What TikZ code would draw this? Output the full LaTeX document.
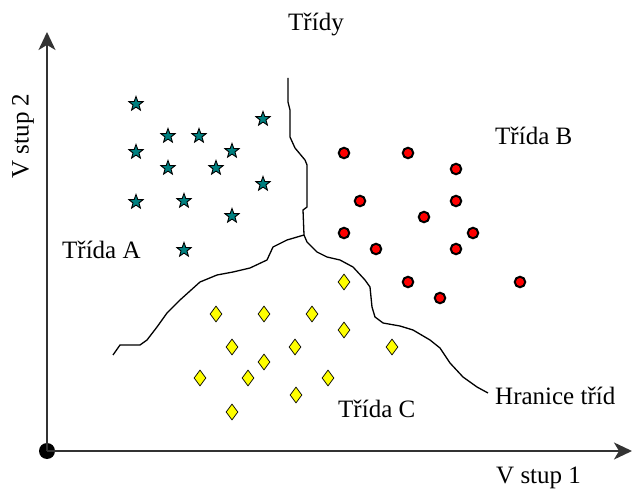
\documentclass[tikz,border=0pt]{standalone}
\usepackage{fontspec}
\setmainfont{Liberation Serif}
\usetikzlibrary{shapes.geometric,arrows.meta}
\definecolor{clsA}{HTML}{008080}
\definecolor{clsB}{HTML}{FF0000}
\definecolor{clsC}{HTML}{FFFF00}
\definecolor{axisgray}{HTML}{333333}
\tikzset{
  starmark/.style={star, star points=5, star point ratio=2.4, minimum size=15pt,
    inner sep=0pt, fill=clsA, draw=black, line width=0.9pt},
  dotmark/.style={circle, minimum size=10.5pt, inner sep=0pt, fill=clsB,
    draw=black, line width=2pt},
  diamark/.style={diamond, minimum width=12pt, minimum height=16pt, inner sep=0pt,
    fill=clsC, draw=black, line width=0.7pt},
  lbl/.style={inner sep=0pt, font=\fontsize{25}{28}\selectfont},
  axisline/.style={draw=axisgray, line width=1.8pt,
    -{Stealth[length=18pt, width=17pt, inset=5pt]}},
  border/.style={draw=black, line width=1.3pt, line join=round},
}
\begin{document}
\begin{tikzpicture}[x=1pt,y=-1pt]
\useasboundingbox[fill=white] (0,0) rectangle (633,492);

% axes
\node[circle, fill=black, minimum size=16pt, inner sep=0pt] (o) at (47,451) {};
\coordinate (xt) at (632,451);
\coordinate (yt) at (47,32);
\draw[axisline] (o.center) -- (xt);
\draw[axisline] (o.center) -- (yt);

% class A
\foreach \n/\p in {1/{136,104},2/{168,136},3/{199,136},4/{263,119},5/{136,152},
  6/{168,168},7/{232,151},8/{216,168},9/{263,184},10/{136,202},11/{184,201},
  12/{232,216},13/{184,250}}
  \node[starmark] (a\n) at (\p) {};

% class B
\foreach \n/\p in {1/{344,153},2/{408,153},3/{456,169},4/{360,201},5/{456,201},
  6/{424,217},7/{344,233},8/{473,233},9/{376,249},10/{456,249},11/{408,282},
  12/{520,282},13/{440,298}}
  \node[dotmark] (b\n) at (\p) {};

% class C
\foreach \n/\p in {1/{344,282},2/{216,314},3/{264,314},4/{312,314},5/{344,330},
  6/{232,347},7/{295,347},8/{392,347},9/{264,362},10/{200,378},11/{248,378},
  12/{328,378},13/{296,395},14/{232,412}}
  \node[diamark] (c\n) at (\p) {};

% class borders
\coordinate (j) at (304,235);
\coordinate (top) at (288,78);
\coordinate (lend) at (113,355);
\coordinate (rend) at (488,393);
\draw[border] (top) -- (288,102) -- (290,110) -- (290,137) -- (295,148) -- (305,160)
  -- (307,165) -- (307,207) -- (303,210) -- (j);
\draw[border] (j) -- (287,240) -- (273,247) -- (267,260) -- (250,268) -- (233,272)
  -- (217,275) -- (200,282) -- (180,300) -- (167,313) -- (157,327) -- (147,340)
  -- (140,345) -- (120,345) -- (lend);
\draw[border] (j) -- (307,242) -- (317,252) -- (327,257) -- (340,260) -- (353,267)
  -- (365,280) -- (370,287) -- (372,307) -- (375,317) -- (383,323) -- (400,326)
  -- (413,330) -- (430,340) -- (440,348) -- (450,363) -- (463,377) -- (477,387)
  -- (rend);

% labels
\node[lbl, anchor=west] (t0) at (288,25) {Třídy};
\node[lbl, anchor=west] (tA) at (62,250) {Třída A};
\node[lbl, anchor=west] (tB) at (495,136) {Třída B};
\node[lbl, anchor=west] (tC) at (338,409) {Třída C};
\node[lbl, anchor=west] (th) at (495,396) {Hranice tříd};
\node[lbl, anchor=west] (x1) at (496,478) {V stup 1};
\node[lbl, rotate=90] (x2) at (23,136) {V stup 2};
\end{tikzpicture}
\end{document}
